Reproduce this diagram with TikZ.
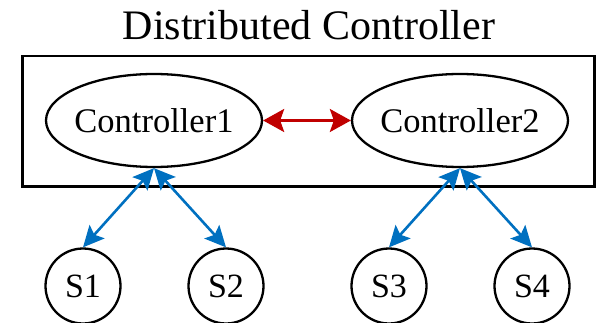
\documentclass[tikz,border=0pt]{standalone}
\usepackage{fontspec}
\setmainfont{Liberation Serif}
\usepackage{tikz}
\usetikzlibrary{arrows.meta,shapes}
\definecolor{linkblue}{HTML}{0070C0}
\definecolor{linkred}{HTML}{C00000}

\begin{document}
\begin{tikzpicture}[x=1pt,y=-1pt,
		ctrl/.style={draw,ellipse,line width=2.3pt,minimum width=216pt,minimum height=93pt,inner xsep=-5pt,inner ysep=0pt,font=\fontsize{34.5}{40}\selectfont},
		sw/.style={draw,circle,line width=2.3pt,minimum size=75pt,inner sep=0pt,font=\fontsize{34}{40}\selectfont},
		uplink/.style={{Stealth[length=21pt,width=20pt,inset=4pt]}-{Stealth[length=21pt,width=20pt,inset=4pt]},line width=2.6pt,linkblue},
		peer/.style={{Stealth[length=21pt,width=23pt,inset=4pt]}-{Stealth[length=21pt,width=23pt,inset=4pt]},line width=2.6pt,linkred}]
			
			\useasboundingbox (0,0) rectangle (596,323);
			
			% title and frame
			\node (title) at (309,40) [anchor=base,font=\fontsize{42}{48}\selectfont] {Distributed Controller};
			\draw[line width=2.3pt] (22.5,56) rectangle (594.5,186.5);
			
			% controllers
			\node (c1) at (154,120.5) [ctrl] {Controller1};
			\node (c2) at (460,120.5) [ctrl] {Controller2};
			
			% switches
			\node (s1) at (83,286) [sw] {S1};
			\node (s2) at (226,286) [sw] {S2};
			\node (s3) at (389,286) [sw] {S3};
			\node (s4) at (532,286) [sw] {S4};
			
			\draw[peer] (c1.east)--(c2.west);
			\draw[uplink] (c1.south)--(s1.north);
			\draw[uplink] (c1.south)--(s2.north);
			\draw[uplink] (c2.south)--(s3.north);
			\draw[uplink] (c2.south)--(s4.north);
			
		\end{tikzpicture}
\end{document}
